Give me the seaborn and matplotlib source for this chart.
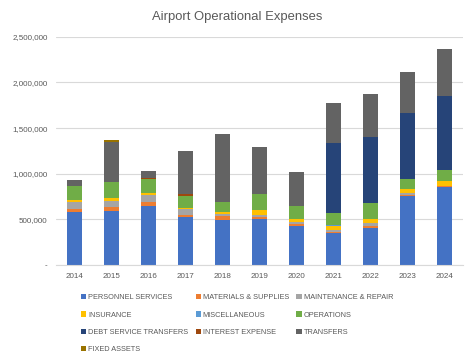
import matplotlib
matplotlib.use("Agg")
import matplotlib.pyplot as plt
import seaborn as sns
import numpy as np
import pandas as pd
from matplotlib.patches import Patch
from matplotlib.ticker import FuncFormatter

years = ["2014", "2015", "2016", "2017", "2018", "2019", "2020", "2021", "2022", "2023", "2024"]

categories = ["PERSONNEL SERVICES", "MATERIALS & SUPPLIES", "MAINTENANCE & REPAIR",
              "INSURANCE", "MISCELLANEOUS", "OPERATIONS",
              "DEBT SERVICE TRANSFERS", "INTEREST EXPENSE", "TRANSFERS",
              "FIXED ASSETS"]

personnel = [585000, 593000, 641000, 524000, 495000, 505000, 429000, 355000, 403000, 758000, 850000]
materials = [30000, 47000, 44000, 22000, 43000, 17000, 18000, 10000, 20000, 10000, 11000]
maintenance = [75000, 63000, 77000, 69000, 19000, 27000, 29000, 20000, 35000, 20000, 8000]
insurance = [25000, 30000, 26000, 5000, 25000, 55000, 29000, 47000, 44000, 44000, 46000]
miscellaneous = [2000, 2000, 2000, 2000, 2000, 2000, 2000, 2000, 2000, 2000, 2000]
operations = [145000, 172000, 157000, 129000, 107000, 173000, 136000, 136000, 176000, 113000, 129000]
debt_service = [0, 0, 0, 0, 0, 0, 0, 762000, 721000, 714000, 806000]
interest = [5000, 3000, 3000, 22000, 3000, 3000, 3000, 3000, 3000, 3000, 3000]
transfers = [60000, 440000, 85000, 472000, 740000, 513000, 374000, 444000, 474000, 456000, 510000]
fixed_assets = [0, 16000, 0, 0, 0, 0, 0, 0, 0, 0, 0]

series = [personnel, materials, maintenance, insurance, miscellaneous, operations,
          debt_service, interest, transfers, fixed_assets]

colors = ["#4472C4", "#ED7D31", "#A5A5A5", "#FFC000", "#5B9BD5", "#70AD47",
          "#264478", "#9E480E", "#636363", "#997300"]

sns.set_style("white")
plt.rcParams["font.family"] = ["Liberation Sans", "DejaVu Sans"]
text_color = "#595959"

fig = plt.figure(figsize=(4.74, 3.61), dpi=100)
ax = fig.add_axes([0.118, 0.266, 0.859, 0.632])

bottom = np.zeros(len(years))
for name, vals, col in zip(categories, series, colors):
    df = pd.DataFrame({"year": years, "value": vals})
    sns.barplot(data=df, x="year", y="value", order=years, color=col,
                bottom=bottom.copy(), width=0.42, ax=ax, saturation=1,
                linewidth=0, errorbar=None)
    bottom += np.array(vals)

ax.set_ylim(0, 2500000)
ax.set_xlim(-0.5, len(years) - 0.5)
ax.set_yticks(np.arange(0, 2500001, 500000))
ax.yaxis.set_major_formatter(FuncFormatter(lambda v, p: "-" if v == 0 else f"{int(v):,}"))
ax.grid(axis="y", color="#D9D9D9", linewidth=0.8)
ax.set_axisbelow(True)
for s in ["top", "right", "left"]:
    ax.spines[s].set_visible(False)
ax.spines["bottom"].set_color("#D9D9D9")
ax.spines["bottom"].set_linewidth(0.8)
ax.tick_params(axis="both", length=0, labelsize=5.8, colors=text_color, pad=6)
ax.set_xlabel("")
ax.set_ylabel("")

fig.text(0.5, 0.953, "Airport Operational Expenses", ha="center", va="center",
         fontsize=9.4, color=text_color)

# legend is filled column by column, so reorder to read row by row
order = [0, 3, 6, 9, 1, 4, 7, 2, 5, 8]
handles = [Patch(facecolor=colors[i], edgecolor="none") for i in order]
labels = [categories[i] for i in order]
fig.legend(handles, labels, loc="upper center", bbox_to_anchor=(0.5, 0.203),
           ncol=3, frameon=False, fontsize=5.3, labelcolor=text_color,
           handlelength=0.7, handleheight=0.7, handletextpad=0.3,
           columnspacing=1.0, labelspacing=1.35, alignment="left")

fig.savefig("out.png", dpi=100)
